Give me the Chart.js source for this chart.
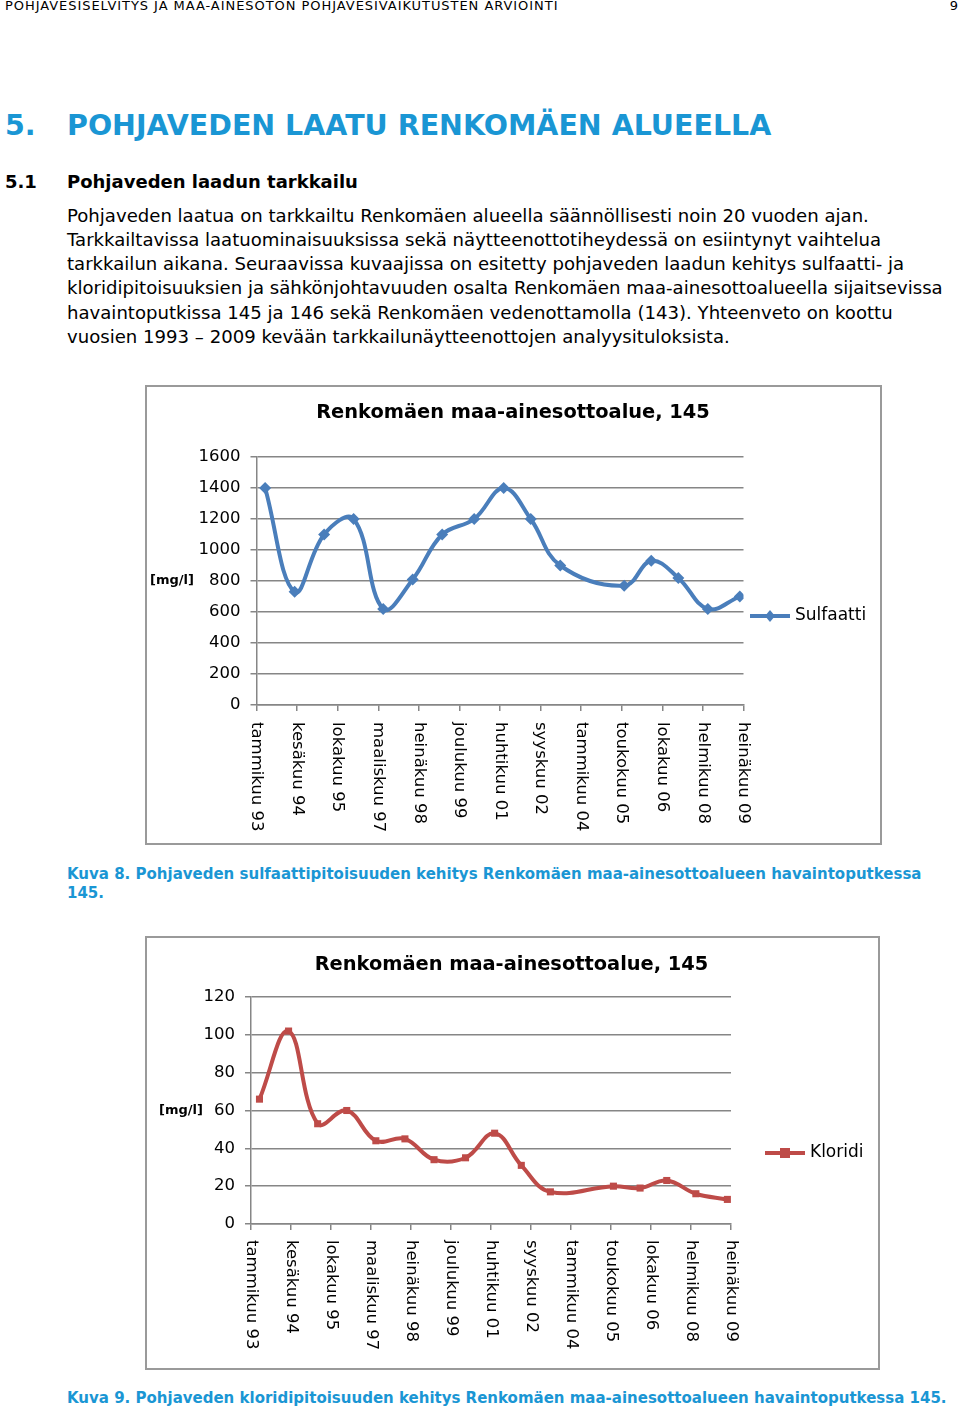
<!DOCTYPE html>
<html lang="fi">
<head>
<meta charset="UTF-8">
<title>Renkomäen maa-ainesottoalue, 145</title>
<script src="https://cdn.jsdelivr.net/npm/chart.js"></script>
<style>
  body { margin:0; background:#fff; font-family:"DejaVu Sans", Verdana, sans-serif; color:#000; }
  #page { position:relative; width:960px; height:1411px; overflow:hidden; }
  .t { position:absolute; white-space:nowrap; }
  .blue { color:#1a96d4; }
  .box { position:absolute; border:2px solid #9a9a9a; box-sizing:border-box; pointer-events:none; }
  .cv { position:absolute; }
</style>
</head>
<body>
<div id="page">
  <div class="t" style="left:5px;top:-1.5px;font-size:13px;line-height:14px;letter-spacing:0.95px;">POHJAVESISELVITYS JA MAA-AINESOTON POHJAVESIVAIKUTUSTEN ARVIOINTI</div>
  <div class="t" style="right:2px;top:-1.5px;font-size:13px;line-height:14px;">9</div>

  <div class="t blue" style="left:5px;top:110px;font-size:28.5px;line-height:32px;font-weight:bold;">5.</div>
  <div class="t blue" style="left:67px;top:110px;font-size:28.5px;line-height:32px;font-weight:bold;">POHJAVEDEN LAATU RENKOMÄEN ALUEELLA</div>

  <div class="t" style="left:5px;top:170.8px;font-size:18px;line-height:22px;font-weight:bold;">5.1</div>
  <div class="t" style="left:67px;top:170.8px;font-size:18px;line-height:22px;font-weight:bold;">Pohjaveden laadun tarkkailu</div>

  <div class="t" style="left:67px;top:203.8px;font-size:18.1px;line-height:24.2px;">
    Pohjaveden laatua on tarkkailtu Renkomäen alueella säännöllisesti noin 20 vuoden ajan.<br>
    Tarkkailtavissa laatuominaisuuksissa sekä näytteenottotiheydessä on esiintynyt vaihtelua<br>
    tarkkailun aikana. Seuraavissa kuvaajissa on esitetty pohjaveden laadun kehitys sulfaatti- ja<br>
    kloridipitoisuuksien ja sähkönjohtavuuden osalta Renkomäen maa-ainesottoalueella sijaitsevissa<br>
    havaintoputkissa 145 ja 146 sekä Renkomäen vedenottamolla (143). Yhteenveto on koottu<br>
    vuosien 1993 – 2009 kevään tarkkailunäytteenottojen analyysituloksista.
  </div>

  <div class="cv" style="left:145px;top:385px;width:737px;height:460px;"><canvas id="sulfChart"></canvas></div>
  <div class="box" style="left:145px;top:385px;width:737px;height:460px;"></div>

  <div class="t blue" style="left:67px;top:865.3px;font-size:15px;line-height:19px;font-weight:bold;">
    Kuva 8. Pohjaveden sulfaattipitoisuuden kehitys Renkomäen maa-ainesottoalueen havaintoputkessa<br>145.
  </div>

  <div class="cv" style="left:145px;top:936px;width:735px;height:434px;"><canvas id="kloriChart"></canvas></div>
  <div class="box" style="left:145px;top:936px;width:735px;height:434px;"></div>

  <div class="t blue" style="left:67px;top:1389.3px;font-size:15px;line-height:19px;font-weight:bold;">
    Kuva 9. Pohjaveden kloridipitoisuuden kehitys Renkomäen maa-ainesottoalueen havaintoputkessa 145.
  </div>
</div>

<script>
// sampling dates (spring samples), year-month
var sampleDates = ['1993-04','1994-04','1995-04','1996-04','1997-04','1998-04','1999-04','2000-05',
                   '2001-05','2002-04','2003-04','2005-06','2006-05','2007-04','2008-04','2009-05'];
// mg/l
var sulfaatti = [1400, 730, 1100, 1200, 620, 810, 1100, 1200, 1400, 1200, 900, 770, 930, 820, 620, 700];
var kloridi   = [66, 102, 53, 60, 44, 45, 34, 35, 48, 31, 17, 20, 19, 23, 16, 13];

var xTickLabels = ['tammikuu 93','kesäkuu 94','lokakuu 95','maaliskuu 97','heinäkuu 98','joulukuu 99',
                   'huhtikuu 01','syyskuu 02','tammikuu 04','toukokuu 05','lokakuu 06','helmikuu 08','heinäkuu 09'];
var xStart = '1993-01', xEnd = '2009-07';
var sulfYMax = 1600, sulfYStep = 200;
var kloriYMax = 120, kloriYStep = 20;

function toYear(s) {
  var p = s.split('-');
  return Number(p[0]) + (Number(p[1]) - 1) / 12 + (p.length > 2 ? 0 : 0.5 / 12);
}
var xMin = Number(xStart.split('-')[0]);
var xMax = toYear(xEnd) - 0.5 / 12;

function points(values) {
  return values.map(function (v, i) { return { x: toYear(sampleDates[i]), y: v }; });
}

var GRID = '#868686';

// title, unit label, rotated month labels and the legend
var decor = {
  id: 'decor',
  afterDraw: function (chart, args, o) {
    var ctx = chart.ctx, area = chart.chartArea, xs = chart.scales.x;
    var ds = chart.data.datasets[0];
    ctx.save();
    ctx.fillStyle = '#000';
    ctx.font = 'bold 19.4px "DejaVu Sans"';
    ctx.textAlign = 'center';
    ctx.textBaseline = 'middle';
    ctx.fillText(o.title, o.titleX, o.titleY);

    ctx.font = 'bold 13px "DejaVu Sans"';
    ctx.textAlign = 'left';
    ctx.fillText('[mg/l]', o.unitX, (area.top + area.bottom) / 2);

    ctx.font = '16.5px "DejaVu Sans"';
    xs.ticks.forEach(function (t, i) {
      var px = xs.getPixelForValue(t.value);
      ctx.save();
      ctx.translate(px, area.bottom + o.labelGap);
      ctx.rotate(Math.PI / 2);
      ctx.textAlign = 'left';
      ctx.textBaseline = 'middle';
      ctx.fillText(xTickLabels[i], 0, 0);
      ctx.restore();
    });

    // legend
    ctx.strokeStyle = ds.borderColor;
    ctx.lineWidth = 4;
    ctx.beginPath();
    ctx.moveTo(o.legX, o.legY);
    ctx.lineTo(o.legX + 40, o.legY);
    ctx.stroke();
    ctx.fillStyle = ds.borderColor;
    var cx = o.legX + 20, r = 5;
    ctx.beginPath();
    if (ds.pointStyle === 'rectRot') {
      ctx.moveTo(cx, o.legY - r - 1); ctx.lineTo(cx + r, o.legY);
      ctx.lineTo(cx, o.legY + r + 1); ctx.lineTo(cx - r, o.legY);
    } else {
      ctx.rect(cx - r, o.legY - r, 2 * r, 2 * r);
    }
    ctx.fill();
    ctx.fillStyle = '#000';
    ctx.font = '17px "DejaVu Sans"';
    ctx.textAlign = 'left';
    ctx.textBaseline = 'middle';
    ctx.fillText(ds.label, o.legX + 45, o.legY);
    ctx.restore();
  }
};

function makeChart(id, label, values, color, pStyle, pRadius, yMax, yStep, lay) {
  return new Chart(document.getElementById(id), {
    type: 'line',
    data: {
      datasets: [{
        label: label,
        data: points(values),
        borderColor: color,
        backgroundColor: color,
        borderWidth: 4,
        tension: 0.4,
        pointStyle: pStyle,
        pointRadius: pRadius,
        pointBorderWidth: 0,
        pointBackgroundColor: color
      }]
    },
    options: {
      responsive: true,
      maintainAspectRatio: false,
      animation: false,
      layout: { padding: { left: 0, top: lay.top, right: lay.right, bottom: lay.bottom } },
      plugins: {
        legend: { display: false },
        title: { display: false },
        tooltip: { enabled: false },
        decor: lay.decor
      },
      scales: {
        x: {
          type: 'linear',
          min: xMin,
          max: xMax,
          afterBuildTicks: function (s) {
            var step = (xMax - xMin) / (xTickLabels.length - 1);
            s.ticks = xTickLabels.map(function (l, i) { return { value: xMin + i * step }; });
          },
          ticks: { display: false },
          grid: { drawOnChartArea: false, drawTicks: true, tickLength: 6, color: GRID, lineWidth: 1.5 },
          border: { display: true, color: GRID, width: 1.5 },
          afterFit: function (s) { s.height = 6; }
        },
        y: {
          min: 0,
          max: yMax,
          ticks: {
            stepSize: yStep, color: '#000', padding: 10,
            font: { family: 'DejaVu Sans', size: 16.5 },
            callback: function (v) { return String(v); }
          },
          grid: { color: GRID, lineWidth: 1.5, tickLength: 6 },
          border: { display: true, color: GRID, width: 1.5 },
          afterFit: function (s) { s.width = lay.yWidth; }
        }
      }
    },
    plugins: [decor]
  });
}

makeChart('sulfChart', 'Sulfaatti', sulfaatti, '#4a7ebb', 'rectRot', 6, sulfYMax, sulfYStep, {
  top: 72, right: 138.5, bottom: 134, yWidth: 111.5,
  decor: { title: 'Renkomäen maa-ainesottoalue, 145', titleX: 368, titleY: 28, unitX: 5, labelGap: 17, legX: 605, legY: 231 }
});
makeChart('kloriChart', 'Kloridi', kloridi, '#be4b48', 'rect', 5, kloriYMax, kloriYStep, {
  top: 61, right: 149, bottom: 140, yWidth: 106,
  decor: { title: 'Renkomäen maa-ainesottoalue, 145', titleX: 366.5, titleY: 29, unitX: 14, labelGap: 16, legX: 620, legY: 217 }
});
</script>
</body>
</html>
